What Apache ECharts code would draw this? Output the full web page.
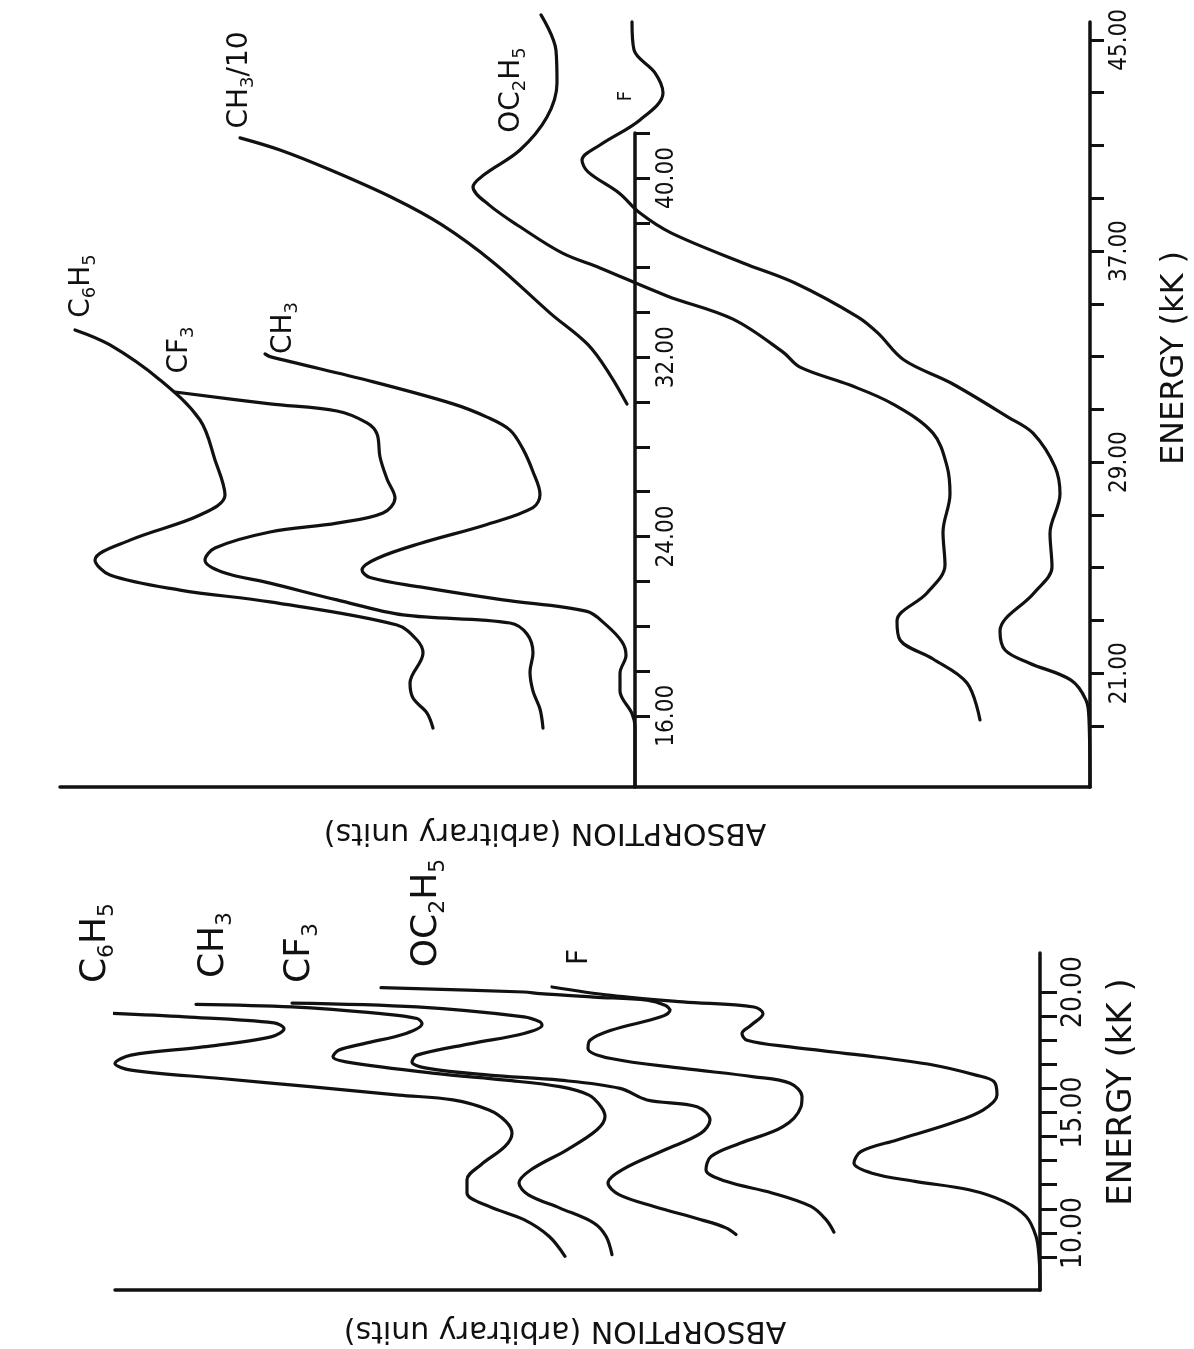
<!DOCTYPE html>
<html>
<head>
<meta charset="utf-8">
<script src="https://cdn.jsdelivr.net/npm/echarts@6/dist/echarts.min.js"></script>
<style>
html,body{margin:0;padding:0;background:#ffffff;}
#chart{width:1194px;height:1349px;}
</style>
</head>
<body>
<div id="chart"></div>
<script>
// ---------- DATA: [absorption (arb. units), energy (kK)] ----------
// Lower panel (8 - 21 kK)
const lowC6H5 = [[9.37,19.13],[8.55,18.97],[7.66,18.72],[7.56,18.48],[7.69,18.14],[8.37,17.72],[9.09,17.38],[9.25,17.03],[9.09,16.76],[8.19,16.41],[7.30,16.07],[6.41,15.72],[5.87,15.52],[5.51,15.10],[5.34,14.62],[5.28,14.14],[5.35,13.59],[5.59,12.83],[5.73,12.21],[5.73,11.66],[5.51,11.10],[5.16,10.55],[4.91,9.86],[4.75,9.03]];
const lowCH3 = [[8.44,19.49],[7.48,19.38],[6.59,19.10],[6.23,18.90],[6.18,18.69],[6.34,18.28],[6.76,17.86],[7.01,17.59],[7.07,17.31],[6.94,17.10],[6.05,16.62],[5.34,16.34],[4.80,16.07],[4.51,15.72],[4.39,15.24],[4.35,14.83],[4.43,14.28],[4.73,13.45],[5.09,12.62],[5.21,12.07],[5.12,11.59],[4.80,11.03],[4.46,10.41],[4.34,9.86],[4.28,9.10]];
const lowCF3 = [[7.48,19.54],[6.23,19.38],[5.16,18.97],[5.00,18.76],[4.98,18.62],[5.16,18.28],[5.69,17.86],[6.23,17.38],[6.28,17.10],[6.12,16.83],[5.51,16.55],[4.80,16.34],[4.20,16.00],[3.93,15.52],[3.43,15.24],[3.30,14.69],[3.39,14.14],[3.75,13.45],[4.18,12.62],[4.32,12.07],[4.21,11.59],[3.86,11.10],[3.39,10.55],[3.14,10.21],[3.04,9.93]];
const lowOC2H5 = [[6.59,20.18],[5.16,20.00],[5.00,19.93],[4.46,19.79],[3.93,19.66],[3.75,19.45],[3.70,19.24],[3.79,18.97],[4.29,18.41],[4.50,18.00],[4.52,17.66],[4.29,17.24],[3.57,16.83],[2.86,16.48],[2.50,16.21],[2.38,15.66],[2.39,15.24],[2.57,14.41],[3.00,13.72],[3.29,13.17],[3.34,12.62],[3.14,12.14],[2.68,11.66],[2.29,11.10],[2.14,10.55],[2.06,10.03]];
const lowF = [[4.88,20.21],[4.29,19.86],[3.57,19.59],[2.86,19.38],[2.77,19.10],[2.89,18.62],[2.98,18.28],[2.93,18.00],[2.50,17.72],[1.79,17.38],[1.07,16.97],[0.64,16.55],[0.46,16.28],[0.43,15.72],[0.57,15.10],[0.89,14.55],[1.43,13.86],[1.79,13.38],[1.86,12.90],[1.68,12.48],[1.25,12.14],[0.71,11.79],[0.36,11.31],[0.14,10.69],[0.04,9.86],[0.01,9.03],[0,8.00],[0,7.63]];

// Upper panel, left group (13 - 42 kK scale)
const upC6H5 = [[5.60,33.22],[5.25,32.55],[4.75,30.99],[4.35,29.20],[4.20,27.42],[4.10,25.85],[4.35,24.96],[5.05,23.84],[5.40,22.95],[5.25,22.28],[4.55,21.61],[3.65,21.08],[2.38,20.05],[2.18,19.38],[2.12,18.80],[2.25,17.46],[2.22,16.79],[2.08,16.12],[2.02,15.45]];
const upCF3 = [[4.60,30.45],[3.65,29.92],[2.98,29.60],[2.68,29.07],[2.58,28.58],[2.55,27.55],[2.48,26.57],[2.40,25.72],[2.52,25.05],[2.98,24.60],[3.65,24.20],[4.20,23.49],[4.30,22.95],[4.13,22.42],[3.65,21.92],[2.98,21.17],[2.32,20.50],[1.25,20.14],[1.08,19.65],[1.02,18.80],[1.05,17.95],[1.02,17.10],[0.95,16.30],[0.92,15.45]];
const upCH3 = [[3.70,32.15],[3.65,32.03],[2.65,30.94],[1.82,29.92],[1.48,29.33],[1.25,28.75],[1.12,27.90],[1.02,26.89],[0.95,25.88],[1.02,25.29],[1.48,24.54],[2.15,23.69],[2.58,23.02],[2.73,22.51],[2.65,22.17],[2.15,21.75],[1.32,21.17],[0.48,20.66],[0.30,20.10],[0.13,19.30],[0.09,18.70],[0.15,17.90],[0.15,17.10],[0.03,16.10],[0,15.50],[0,12.82]];

// Upper panel, right group (17 - 46 kK scale)
const upCH3div10 = [[8.50,41.29],[8.10,40.83],[7.60,40.08],[6.97,39.01],[6.48,37.99],[5.96,36.55],[5.39,34.62],[5.02,33.45],[4.80,32.31],[4.63,31.20]];
const upOC2H5 = [[5.49,45.95],[5.34,44.60],[5.33,43.37],[5.43,42.08],[5.70,40.83],[6.06,39.89],[6.17,39.43],[6.01,38.75],[5.70,37.92],[5.28,36.93],[4.90,36.36],[4.23,35.30],[3.57,34.42],[3.07,33.17],[2.90,32.60],[2.40,31.92],[1.97,31.20],[1.57,30.10],[1.43,28.85],[1.40,27.79],[1.47,26.35],[1.45,25.10],[1.63,24.04],[1.93,22.98],[1.90,22.26],[1.57,21.54],[1.23,20.63],[1.10,19.23]];
const upF = [[4.58,45.69],[4.56,44.62],[4.35,43.75],[4.27,42.99],[4.50,41.97],[4.90,41.02],[5.08,40.45],[5.02,40.00],[4.71,39.20],[4.50,38.44],[4.19,37.69],[3.47,36.55],[2.95,35.79],[2.32,34.50],[2.12,33.89],[1.86,32.87],[1.39,32.00],[0.82,30.71],[0.57,30.10],[0.35,28.82],[0.30,27.79],[0.40,26.31],[0.38,25.03],[0.56,24.04],[0.90,22.60],[0.85,21.88],[0.61,21.39],[0.19,20.74],[0.04,19.98],[0.01,19.23],[0,16.69]];

// Tick marks and tick labels (kK)
const lowTicks = [9,10,11,12,13,14,15,16,17,18,19,20];
const lowTickLabels = [10,15,20];
const upLeftTicks = [16,18,20,22,24,26,28,30,32,34,36,38,40,42];
const upLeftTickLabels = [16,24,32,40];
const upRightTicks = [19,21,23,25,27,29,31,33,35,37,39,41,43,45];
const upRightTickLabels = [21,29,37,45];

// ---------- CHART ----------
const INK = '#111111';
const SANS = "'DejaVu Sans', 'Noto Sans', sans-serif";
const NARROW = "'Liberation Sans Narrow', 'DejaVu Sans Condensed', 'Roboto Condensed', sans-serif";

function curve(name, data, idx) {
  return {
    name: name, type: 'line', xAxisIndex: idx, yAxisIndex: idx, data: data,
    symbol: 'none', showSymbol: false, smooth: 0.35, clip: false, silent: true,
    lineStyle: { color: INK, width: 3.2, cap: 'round', join: 'round' }, z: 3
  };
}
function energyAxis(gridIndex, min, max, ticks, labels, fontSize, margin, tickLen) {
  return {
    gridIndex: gridIndex, type: 'value', position: 'right', min: min, max: max,
    axisLine: { show: true, onZero: false, lineStyle: { color: INK, width: 3.5 } },
    axisTick: { show: true, inside: false, length: tickLen, customValues: ticks, lineStyle: { color: INK, width: 3 } },
    axisLabel: { show: true, customValues: labels, rotate: 90, margin: margin, color: INK,
      fontSize: fontSize, fontFamily: NARROW, formatter: function (v) { return Number(v).toFixed(2); } },
    splitLine: { show: false }
  };
}
function absorptionAxis(gridIndex, max, showLine) {
  return {
    gridIndex: gridIndex, type: 'value', inverse: true, min: 0, max: max, show: showLine,
    axisLine: { show: showLine, onZero: false, lineStyle: { color: INK, width: 3.5 } },
    axisTick: { show: false }, axisLabel: { show: false }, splitLine: { show: false }
  };
}
function formula(txt, x, y, size, sub, family) {
  return {
    type: 'text', x: x, y: y, rotation: Math.PI / 2, silent: true, z: 10,
    style: {
      text: txt, fill: INK, fontSize: size, fontFamily: family || SANS,
      align: 'center', verticalAlign: 'middle', textAlign: 'center', textVerticalAlign: 'middle',
      lineHeight: Math.round(size * 1.25),
      rich: { s: { fontSize: sub, fontFamily: family || SANS, fill: INK, verticalAlign: 'bottom', lineHeight: sub } }
    }
  };
}
function plain(txt, x, y, size, rot, family) {
  return {
    type: 'text', x: x, y: y, rotation: rot, silent: true, z: 10,
    style: { text: txt, fill: INK, fontSize: size, fontFamily: family || SANS,
      align: 'center', verticalAlign: 'middle', textAlign: 'center', textVerticalAlign: 'middle' }
  };
}

const chart = echarts.init(document.getElementById('chart'), null, { renderer: 'canvas' });
chart.setOption({
  backgroundColor: '#ffffff',
  animation: false,
  grid: [
    { left: 115, right: 154, top: 953, height: 337 },   // lower panel
    { left: 60, right: 559, top: 133, height: 654 },    // upper panel, left group
    { left: 60, right: 104, top: 22, height: 765 }      // upper panel, right group
  ],
  xAxis: [
    absorptionAxis(0, 9.25, true),
    absorptionAxis(1, 5.75, false),
    absorptionAxis(2, 10.30, true)
  ],
  yAxis: [
    energyAxis(0, 7.63, 21.62, lowTicks, lowTickLabels, 28, 20, 17),
    energyAxis(1, 12.82, 42.01, upLeftTicks, upLeftTickLabels, 24, 20, 15),
    energyAxis(2, 16.69, 45.68, upRightTicks, upRightTickLabels, 24, 18, 14)
  ],
  series: [
    curve('C6H5 (low)', lowC6H5, 0),
    curve('CH3 (low)', lowCH3, 0),
    curve('CF3 (low)', lowCF3, 0),
    curve('OC2H5 (low)', lowOC2H5, 0),
    curve('F (low)', lowF, 0),
    curve('C6H5', upC6H5, 1),
    curve('CF3', upCF3, 1),
    curve('CH3', upCH3, 1),
    curve('CH3/10', upCH3div10, 2),
    curve('OC2H5', upOC2H5, 2),
    curve('F', upF, 2)
  ],
  graphic: [
    // lower panel curve labels
    formula('C{s|6}H{s|5}', 96, 943, 36, 22),
    formula('CH{s|3}', 214, 945, 36, 22),
    formula('CF{s|3}', 300, 953, 36, 22),
    formula('OC{s|2}H{s|5}', 427, 913, 36, 22),
    formula('F', 580, 957, 28, 18),
    // upper panel curve labels
    formula('C{s|6}H{s|5}', 82, 286, 28, 18),
    formula('CF{s|3}', 180, 350, 28, 18),
    formula('CH{s|3}', 284, 328, 28, 18),
    formula('CH{s|3}/10', 240, 80, 28, 18),
    formula('OC{s|2}H{s|5}', 512, 90, 28, 18),
    formula('F', 626, 96, 20, 14, NARROW),
    // axis titles
    plain('ENERGY (kK )', 1175, 358, 32, Math.PI / 2),
    plain('ENERGY (kK )', 1122, 1092, 34, Math.PI / 2),
    plain('ABSORPTION (arbitrary units)', 545, 832, 30, Math.PI),
    plain('ABSORPTION (arbitrary units)', 565, 1330, 30, Math.PI)
  ]
});
</script>
</body>
</html>
